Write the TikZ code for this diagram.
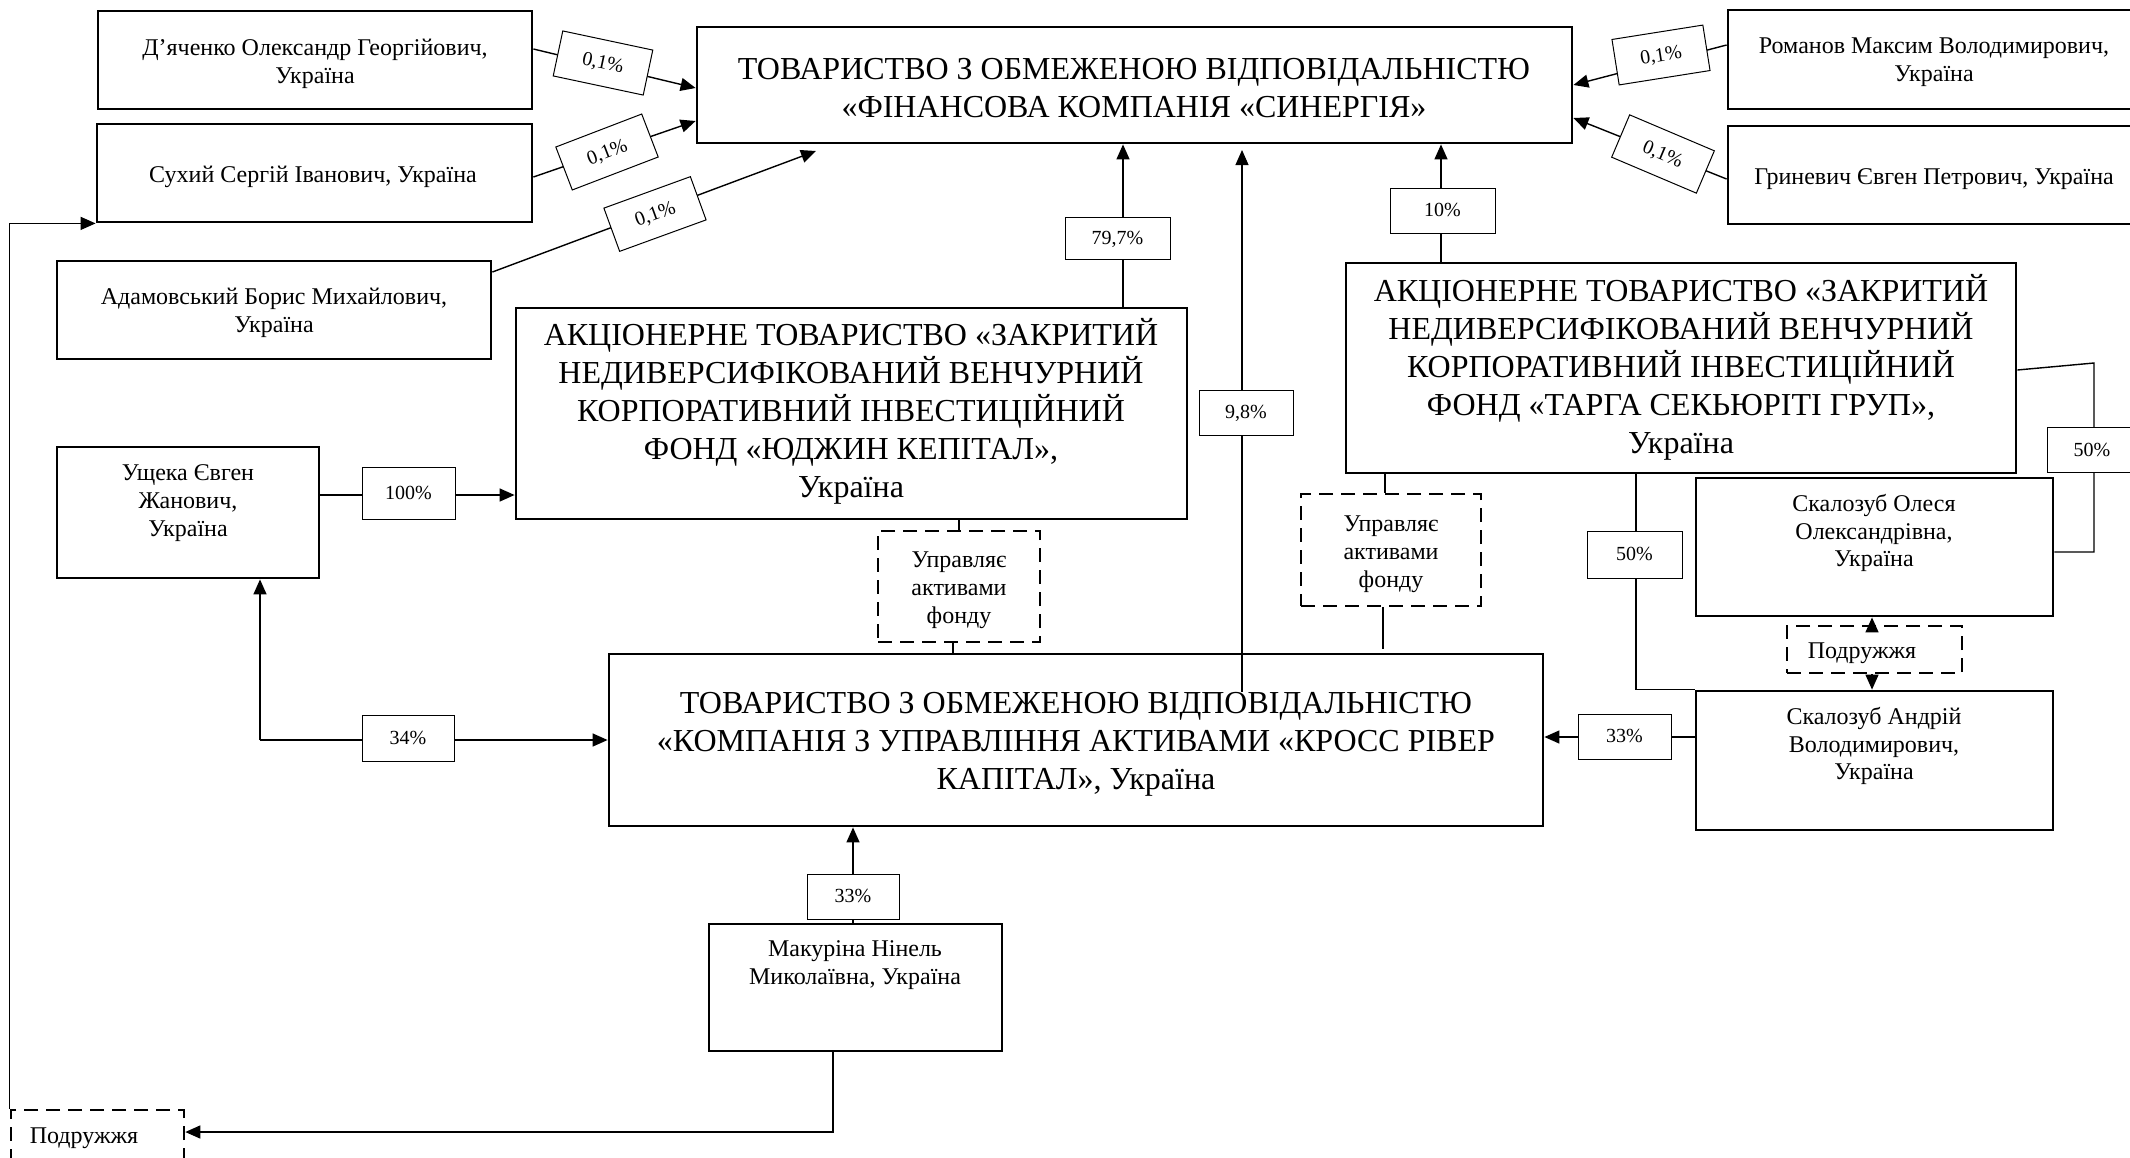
\documentclass[tikz,border=0pt]{standalone}
\usepackage{fontspec}
\setmainfont{Liberation Serif}
\usetikzlibrary{arrows.meta,fit}
\begin{document}
\begin{tikzpicture}[x=0.5pt,y=-0.5pt,
 bx/.style={draw, line width=1.4pt, inner sep=0pt},
 mbx/.style={draw, line width=0.8pt, inner sep=0pt},
 dbx/.style={draw, line width=1.3pt, dash pattern=on 7pt off 4pt, inner sep=0pt},
 lab/.style={draw, line width=0.5pt, fill=white, inner sep=0pt},
 labT/.style={inner sep=0pt, text height=6.8pt, text depth=0.6pt, font=\fontsize{10}{12}\selectfont},
 nm/.style={align=center, font=\fontsize{12}{13.9}\selectfont, inner sep=0pt, yshift=-1pt},
 ttl/.style={align=center, font=\fontsize{16}{19}\selectfont, inner sep=0pt},
 con/.style={line width=0.7pt},
 arr/.style={con, -{Triangle[length=7.5pt,width=6.5pt]}}]
\useasboundingbox (0,0) rectangle (2130,1157);
\fill[white] (0,0) rectangle (2130,1157);
\clip (0,0) rectangle (2130,1157);

% boxes
\node[bx, fit={(697,27)(1572,143)}] (syn) {};
\node[bx, fit={(98,11)(532,109)}] (dya) {};
\node[bx, fit={(97,124)(532,222)}] (sukh) {};
\node[bx, fit={(57,261)(491,359)}] (adam) {};
\node[bx, fit={(1728,10)(2140,109)}] (rom) {};
\node[bx, fit={(1728,126)(2140,224)}] (hry) {};
\node[bx, fit={(516,308)(1187,519)}] (yud) {};
\node[bx, fit={(1346,263)(2016,473)}] (tar) {};
\node[bx, fit={(57,447)(319,578)}] (ush) {};
\node[bx, fit={(609,654)(1543,826)}] (cr) {};
\node[bx, fit={(1696,478)(2053,616)}] (ole) {};
\node[bx, fit={(1696,691)(2053,830)}] (andr) {};
\node[mbx, fit={(709,924)(1002,1051)}] (mak) {};
\node[dbx, fit={(878,531)(1040,642)}] (upra) {};
\node[dbx, fit={(1301,494)(1481,606)}] (uprb) {};
\node[dbx, fit={(1787,626)(1962,673)}] (poda) {};
\node[dbx, fit={(11,1110)(184,1165)}] (podb) {};

% texts
\node[ttl] (synT) at (1134,88) {ТОВАРИСТВО З ОБМЕЖЕНОЮ ВІДПОВІДАЛЬНІСТЮ\\«ФІНАНСОВА КОМПАНІЯ «СИНЕРГІЯ»};
\node[nm] (dyaT) at (315,62) {Д’яченко Олександр Георгійович,\\Україна};
\node[nm] (sukhT) at (313,175) {Сухий Сергій Іванович, Україна};
\node[nm] (adamT) at (274,311) {Адамовський Борис Михайлович,\\Україна};
\node[nm] (romT) at (1934,60) {Романов Максим Володимирович,\\Україна};
\node[nm] (hryT) at (1934,177) {Гриневич Євген Петрович, Україна};
\node[ttl] (yudT) at (851,411) {АКЦІОНЕРНЕ ТОВАРИСТВО «ЗАКРИТИЙ\\НЕДИВЕРСИФІКОВАНИЙ ВЕНЧУРНИЙ\\КОРПОРАТИВНИЙ ІНВЕСТИЦІЙНИЙ\\ФОНД «ЮДЖИН КЕПІТАЛ»,\\Україна};
\node[ttl] (tarT) at (1681,367) {АКЦІОНЕРНЕ ТОВАРИСТВО «ЗАКРИТИЙ\\НЕДИВЕРСИФІКОВАНИЙ ВЕНЧУРНИЙ\\КОРПОРАТИВНИЙ ІНВЕСТИЦІЙНИЙ\\ФОНД «ТАРГА СЕКЬЮРІТІ ГРУП»,\\Україна};
\node[nm] (ushT) at (188,501) {Ущека Євген\\Жанович,\\Україна};
\node[ttl] (crT) at (1076,744) {ТОВАРИСТВО З ОБМЕЖЕНОЮ ВІДПОВІДАЛЬНІСТЮ\\«КОМПАНІЯ З УПРАВЛІННЯ АКТИВАМИ «КРОСС РІВЕР\\КАПІТАЛ», Україна};
\node[nm] (oleT) at (1874,531) {Скалозуб Олеся\\Олександрівна,\\Україна};
\node[nm] (andT) at (1874,744) {Скалозуб Андрій\\Володимирович,\\Україна};
\node[nm] (makT) at (855,963) {Макуріна Нінель\\Миколаївна, Україна};
\node[nm] (upraT) at (959,588) {Управляє\\активами\\фонду};
\node[nm] (uprbT) at (1391,552) {Управляє\\активами\\фонду};
\node[nm] (podaT) at (1862,651) {Подружжя};
\node[nm] (podbT) at (84,1136) {Подружжя};

% connectors
\coordinate (adamEnd) at (816,151);
\coordinate (p98a) at (1242,692);
\coordinate (p98b) at (1242,150);
\coordinate (c34) at (260,740);
\coordinate (c649) at (1383,649);
\coordinate (c50r) at (2094,363);

\draw[arr] (dya.east |- 0,49) -- (syn.west |- 0,88);
\draw[arr] (sukh.east |- 0,177) -- (syn.west |- 0,121);
\draw[arr] (adam.east |- 0,272) -- (adamEnd);
\draw[arr] (rom.west |- 0,45) -- (syn.east |- 0,85);
\draw[arr] (hry.west |- 0,179) -- (syn.east |- 0,118);
\draw[arr] (yud.north -| 1123,0) -- (syn.south -| 1123,0);
\draw[arr, line width=0.55pt] (p98a) -- (p98b);
\draw[arr] (tar.north -| 1441,0) -- (syn.south -| 1441,0);
\draw[arr] (ush.east |- 0,495) -- (yud.west |- 0,495);
\draw[arr] (c34) -- (ush.south -| c34);
\draw[arr] (c34) -- (cr.west |- c34);
\draw[con] (yud.south -| 959,0) -- (upra.north -| 959,0);
\draw[con] (upra.south -| 953,0) -- (cr.north -| 953,0);
\draw[con] (tar.south -| 1385,0) -- (uprb.north -| 1385,0);
\draw[con] (uprb.south -| c649) -- (c649);
\draw[con] (tar.south -| 1636,0) |- (andr.north west);
\draw[con] (tar.east |- 0,370) -- (c50r) |- (ole.east |- 0,552);
\draw[arr] (poda.north -| 1872,0) -- (ole.south -| 1872,0);
\draw[arr] (poda.south -| 1872,0) -- (andr.north -| 1872,0);
\draw[arr] (andr.west |- 0,737) -- (cr.east |- 0,737);
\draw[arr] (mak.north -| 853,0) -- (cr.south -| 853,0);
\draw[arr] (mak.south -| 833,0) |- (podb.east |- 0,1132);
\draw[arr] (podb.north west) |- (sukh.south west);

% labels (box, then its text)
\node[lab, minimum width=46pt, minimum height=23pt, rotate=-12] (lda) at (603,63) {};
\node[labT, rotate=-12] (ldaT) at (lda.center) {0,1\%};
\node[lab, minimum width=46pt, minimum height=23pt, rotate=21] (lsu) at (607,152) {};
\node[labT, rotate=21] (lsuT) at (lsu.center) {0,1\%};
\node[lab, minimum width=46pt, minimum height=23pt, rotate=20] (lad) at (655,214) {};
\node[labT, rotate=20] (ladT) at (lad.center) {0,1\%};
\node[lab, minimum width=46pt, minimum height=23pt, rotate=9] (lro) at (1661,55) {};
\node[labT, rotate=9] (lroT) at (lro.center) {0,1\%};
\node[lab, minimum width=46pt, minimum height=23pt, rotate=-23] (lhr) at (1663,154) {};
\node[labT, rotate=-23] (lhrT) at (lhr.center) {0,1\%};
\node[lab, fit={(1065,217)(1170,259)}] (l797) {};
\node[labT] (l797T) at (l797.center) {79,7\%};
\node[lab, fit={(1199,390)(1293,435)}] (l98) {};
\node[labT] (l98T) at (l98.center) {9,8\%};
\node[lab, fit={(1390,188)(1495,233)}] (l10) {};
\node[labT] (l10T) at (l10.center) {10\%};
\node[lab, fit={(362,467)(455,519)}] (l100) {};
\node[labT] (l100T) at (l100.center) {100\%};
\node[lab, fit={(362,715)(454,761)}] (l34) {};
\node[labT] (l34T) at (l34.center) {34\%};
\node[lab, fit={(1578,714)(1671,759)}] (l33a) {};
\node[labT] (l33aT) at (l33a.center) {33\%};
\node[lab, fit={(807,874)(899,919)}] (l33b) {};
\node[labT] (l33bT) at (l33b.center) {33\%};
\node[lab, fit={(1587,531)(1682,578)}] (l50a) {};
\node[labT] (l50aT) at (l50a.center) {50\%};
\node[lab, fit={(2047,427)(2140,472)}] (l50b) {};
\node[labT] (l50bT) at (2092,450) {50\%};
\end{tikzpicture}
\end{document}
